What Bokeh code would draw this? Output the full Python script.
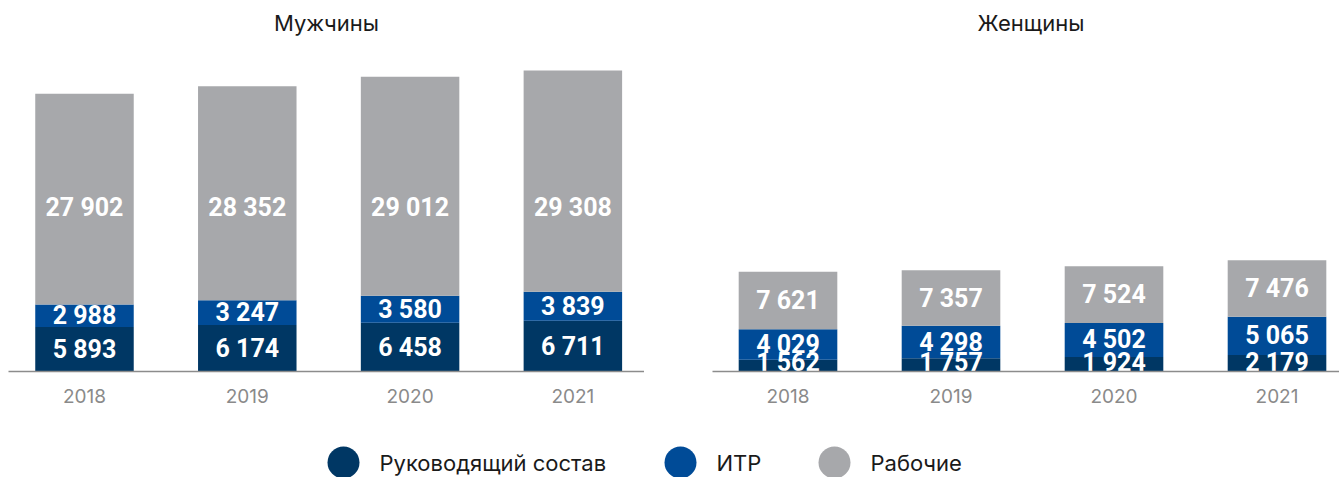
import numpy as np
from bokeh.plotting import figure
from bokeh.layouts import column, row
from bokeh.models import ColumnDataSource, FixedTicker, Range1d
from bokeh.core.properties import value
from bokeh.embed import file_html
from bokeh.resources import INLINE

# ---------------- data ----------------
years = ["2018", "2019", "2020", "2021"]
series_names = ["Руководящий состав", "ИТР", "Рабочие"]
panel_titles = ["Мужчины", "Женщины"]

men_management = [5893, 6174, 6458, 6711]
men_itr = [2988, 3247, 3580, 3839]
men_workers = [27902, 28352, 29012, 29308]

women_management = [1562, 1757, 1924, 2179]
women_itr = [4029, 4298, 4502, 5065]
women_workers = [7621, 7357, 7524, 7476]

# ---------------- style ----------------
COLORS = ["#003764", "#004B97", "#A7A8AB"]
AXIS_COLOR = "#8C8C8C"
YEAR_COLOR = "#8A8A8A"
TEXT_COLOR = "#1A1A1A"
TEXT_FONT = "Inter"
NUM_FONT = "Roboto"
Y_MAX = 43840
BAR_W = 0.605
MEN_WORKERS_LABEL_Y = 21700
MIN_LABEL_Y = 1200   # keep bottom labels from dipping below the axis


def fmt(v):
    return f"{v:,}".replace(",", " ")


def make_panel(title, mgmt, itr, workers, width, border_left, x_start, x_end,
               title_align, title_offset, fixed_worker_label=None):
    p = figure(width=width, height=423, output_backend="svg", toolbar_location=None,
               x_range=Range1d(x_start, x_end), y_range=Range1d(0, Y_MAX),
               min_border_left=border_left, min_border_right=0,
               min_border_top=40, min_border_bottom=52)
    x = np.arange(len(years))
    m = np.array(mgmt, dtype=float)
    i = np.array(itr, dtype=float)
    w = np.array(workers, dtype=float)
    b0 = np.zeros_like(m)
    b1 = m
    b2 = m + i
    b3 = m + i + w
    src = ColumnDataSource(dict(x=x, b0=b0, b1=b1, b2=b2, b3=b3))
    p.vbar(x="x", bottom="b0", top="b1", width=BAR_W, source=src, fill_color=COLORS[0], line_color=None)
    p.vbar(x="x", bottom="b1", top="b2", width=BAR_W, source=src, fill_color=COLORS[1], line_color=None)
    p.vbar(x="x", bottom="b2", top="b3", width=BAR_W, source=src, fill_color=COLORS[2], line_color=None)

    if fixed_worker_label is None:
        wy = (b2 + b3) / 2
    else:
        wy = np.full_like(m, fixed_worker_label)
    my = np.maximum((b0 + b1) / 2, MIN_LABEL_Y)
    lx = np.concatenate([x, x, x])
    ly = np.concatenate([my, (b1 + b2) / 2, wy])
    lt = [fmt(v) for v in list(mgmt) + list(itr) + list(workers)]
    lsrc = ColumnDataSource(dict(x=lx, y=ly, t=lt))
    p.text(x="x", y="y", text="t", source=lsrc, text_align="center", text_baseline="middle",
           text_color="white", text_font=value(NUM_FONT), text_font_style="bold",
           text_font_size="25px")

    p.title.text = title
    p.title.align = title_align
    p.title.offset = title_offset
    p.title.text_font = TEXT_FONT
    p.title.text_font_style = "normal"
    p.title.text_font_size = "22px"
    p.title.text_color = TEXT_COLOR

    p.yaxis.visible = False
    p.xgrid.visible = False
    p.ygrid.visible = False
    p.outline_line_color = None
    ax = p.xaxis[0]
    ax.ticker = FixedTicker(ticks=list(range(len(years))))
    ax.major_label_overrides = {k: y for k, y in enumerate(years)}
    ax.major_tick_line_color = None
    ax.minor_tick_line_color = None
    ax.axis_line_color = AXIS_COLOR
    ax.axis_line_width = 1.5
    ax.major_label_text_color = YEAR_COLOR
    ax.major_label_text_font = TEXT_FONT
    ax.major_label_text_font_size = "19px"
    ax.major_label_standoff = 11
    return p


p1 = make_panel(panel_titles[0], men_management, men_itr, men_workers,
                width=644, border_left=8, x_start=-0.4668, x_end=3.440,
                title_align="center", title_offset=0,
                fixed_worker_label=MEN_WORKERS_LABEL_Y)
p2 = make_panel(panel_titles[1], women_management, women_itr, women_workers,
                width=695, border_left=68, x_start=-0.4632, x_end=3.3834,
                title_align="left", title_offset=265)

# ---------------- legend ----------------
LEGEND_X = [343, 680, 834]
LEGEND_Y = 462
p3 = figure(width=1339, height=54, output_backend="svg", toolbar_location=None,
            x_range=Range1d(0, 1339), y_range=Range1d(477, 423),
            min_border=0)
p3.axis.visible = False
p3.grid.visible = False
p3.outline_line_color = None
lsrc = ColumnDataSource(dict(x=LEGEND_X, y=[LEGEND_Y] * 3, c=COLORS,
                             tx=[v + 36 for v in LEGEND_X], t=series_names))
p3.scatter(x="x", y="y", size=32, fill_color="c", line_color=None, source=lsrc)
p3.text(x="tx", y="y", text="t", source=lsrc, text_align="left", text_baseline="middle",
        text_color=TEXT_COLOR, text_font=value(TEXT_FONT), text_font_size="22px")

layout = column(row(p1, p2), p3)
open("out.html", "w").write(file_html(layout, INLINE))
